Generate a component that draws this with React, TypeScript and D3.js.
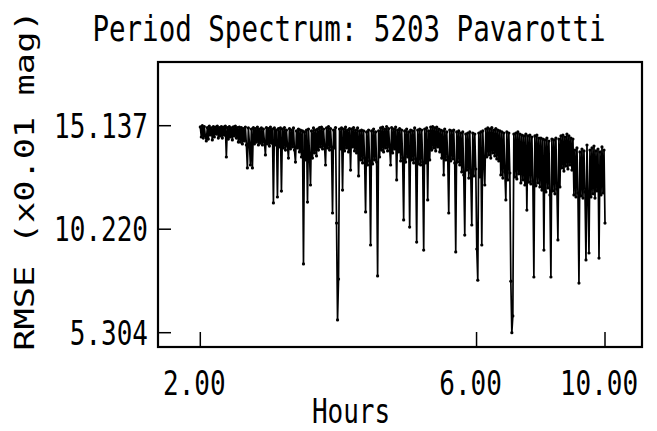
import React from 'react';
import * as d3 from 'd3';

const chartTitle = 'Period Spectrum: 5203 Pavarotti';
const xLabel = 'Hours';
const yLabel = 'RMSE (x0.01 mag)';
const xTicks = [2, 6, 10];
const xTickLabels = ['2.00', '6.00', '10.00'];
const yTicks = [5.304, 10.22, 15.137];
const yTickLabels = ['5.304', '10.220', '15.137'];
const periodStart = 2.0;
const periodEnd = 10.0;

// RMSE (x0.01 mag), one value per scan step from 2 h to 10 h
const rmse = [
  15.08, 14.60, 15.137, 14.55, 15.10, 14.65, 14.41, 15.05, 14.50, 15.12, 14.70, 15.03, 14.46, 15.10, 14.60, 15.07, 14.74, 15.12, 14.55, 15.05,
  14.65, 15.10, 14.55, 15.07, 14.69, 15.12, 13.65, 15.05, 14.50, 15.10, 14.60, 15.03, 14.46, 15.08, 14.65, 15.12, 14.55, 15.05, 14.36, 15.07,
  14.36, 15.05, 14.27, 15.00, 14.41, 15.07, 14.22, 13.13, 15.03, 14.31, 13.27, 14.98, 13.13, 15.05, 14.27, 15.00, 14.36, 15.07, 14.22, 14.98,
  14.31, 15.03, 14.22, 14.98, 14.36, 13.75, 15.05, 14.27, 15.00, 14.17, 15.07, 14.31, 14.98, 11.47, 15.03, 14.22, 14.93, 11.75, 15.00, 14.13,
  15.03, 12.03, 14.98, 14.08, 15.05, 13.98, 14.93, 14.17, 13.60, 15.00, 14.03, 14.93, 14.13, 15.03, 13.98, 13.41, 14.89, 14.08, 14.98, 13.89,
  14.93, 13.65, 14.89, 8.57, 14.84, 13.51, 14.93, 11.51, 14.98, 13.75, 12.32, 14.89, 13.60, 15.03, 13.84, 14.93, 13.70, 14.98, 13.98, 15.05,
  14.13, 15.07, 14.03, 14.98, 14.17, 13.27, 15.03, 14.08, 15.10, 13.98, 15.00, 14.13, 10.99, 14.93, 14.08, 15.05, 10.51, 5.91, 7.85, 14.98,
  14.03, 15.03, 12.08, 14.98, 13.94, 15.07, 14.08, 14.93, 13.89, 15.00, 13.03, 14.98, 14.13, 15.05, 13.94, 14.93, 13.84, 15.03, 12.75, 14.89,
  13.51, 14.93, 13.37, 14.89, 13.60, 11.04, 14.84, 13.27, 14.93, 13.46, 9.47, 14.89, 13.32, 14.98, 13.51, 14.84, 13.41, 8.00, 14.89, 13.65,
  15.03, 13.98, 15.07, 13.89, 14.98, 14.08, 15.10, 13.94, 15.00, 14.13, 13.27, 15.05, 13.84, 14.98, 14.03, 15.07, 12.56, 14.93, 13.89, 15.00,
  13.46, 14.93, 13.60, 10.66, 14.89, 13.41, 14.98, 13.65, 14.84, 10.32, 14.93, 13.51, 14.89, 13.37, 15.03, 13.56, 9.61, 14.93, 13.32, 14.98,
  13.27, 14.93, 13.41, 9.23, 14.98, 13.37, 15.03, 11.61, 14.89, 13.51, 15.07, 13.98, 15.10, 14.08, 15.03, 13.94, 15.07, 14.13, 14.98, 13.89,
  14.93, 13.60, 14.89, 12.80, 14.98, 13.51, 14.84, 13.65, 10.99, 14.93, 13.46, 14.89, 13.56, 14.93, 13.37, 9.14, 14.84, 13.41, 14.89, 13.27,
  14.79, 12.94, 14.84, 12.80, 9.94, 14.74, 13.03, 14.79, 12.65, 14.84, 12.89, 10.42, 14.79, 12.75, 14.74, 13.08, 9.28, 7.80, 14.79, 12.70,
  14.84, 9.47, 14.89, 13.51, 12.32, 14.98, 13.65, 15.03, 13.75, 14.98, 13.60, 15.05, 13.84, 14.93, 13.70, 15.00, 13.56, 14.93, 13.46, 14.89,
  12.80, 14.84, 12.65, 14.79, 12.94, 11.61, 14.84, 12.56, 14.79, 12.89, 7.75, 5.304, 6.10, 14.74, 12.70, 14.79, 12.61, 14.84, 12.85, 14.74,
  12.42, 14.69, 12.56, 14.65, 12.32, 14.74, 11.13, 14.65, 12.46, 14.69, 12.37, 14.60, 12.51, 7.95, 14.65, 12.28, 14.69, 12.42, 14.55, 12.23,
  14.55, 12.08, 14.50, 9.23, 14.46, 11.99, 14.55, 12.18, 14.41, 11.85, 7.95, 14.50, 12.04, 14.46, 11.90, 14.55, 12.13, 9.71, 14.50, 12.23,
  14.65, 13.13, 14.69, 12.98, 14.60, 13.22, 14.74, 13.08, 14.65, 13.27, 14.55, 13.03, 14.50, 11.85, 13.98, 11.75, 14.08, 11.94, 7.66, 13.89,
  11.80, 14.03, 11.70, 13.94, 11.99, 8.76, 14.22, 11.85, 9.09, 13.98, 11.75, 14.08, 11.90, 14.17, 11.70, 13.94, 12.04, 14.03, 8.85, 13.89,
  11.85, 14.13, 11.94, 13.98, 10.51,
];

const FONT = '"DejaVu Sans Mono", monospace';

export default function App() {
  const W = 657;
  const H = 431;
  const frame = { left: 158, right: 642, top: 62, bottom: 347 };
  const x = d3.scaleLog().domain([2, 10]).range([200.3, 605]);
  const y = d3.scaleLinear().domain([5.304, 15.137]).range([332.7, 125.7]);

  const n = rmse.length;
  const step = d3
    .scaleLinear()
    .domain([0, n - 1])
    .range([Math.log(periodStart), Math.log(periodEnd)]);
  const data = rmse.map((v, i) => ({ p: Math.exp(step(i)), v }));

  const line = d3
    .line<{ p: number; v: number }>()
    .x((d) => x(d.p))
    .y((d) => y(d.v));

  const sy = 1.28;

  return (
    <svg
      width={W}
      height={H}
      style={{ position: 'absolute', left: 0, top: 0, background: '#fff' }}
      fontFamily={FONT}
    >
      <rect x={0} y={0} width={W} height={H} fill="#fff" />
      <text
        transform={`translate(349,41) scale(1,${sy})`}
        textAnchor="middle"
        fontSize={27.5}
        fill="#000"
      >
        {chartTitle}
      </text>
      <text
        transform={`translate(34,${(353 + 8) / 2}) scale(1,1.36) rotate(-90)`}
        textAnchor="middle"
        fontSize={26}
        fill="#000"
      >
        {yLabel}
      </text>
      <text
        transform={`translate(351,423) scale(1,${sy})`}
        textAnchor="middle"
        fontSize={26}
        fill="#000"
      >
        {xLabel}
      </text>

      <path
        d={line(data) || ''}
        fill="none"
        stroke="#000"
        strokeWidth={1.7}
        strokeLinejoin="round"
      />
      {data.map((d, i) => (
        <circle key={i} cx={x(d.p)} cy={y(d.v)} r={1.6} fill="#000" />
      ))}

      <rect
        x={frame.left}
        y={frame.top}
        width={frame.right - frame.left}
        height={frame.bottom - frame.top}
        fill="none"
        stroke="#000"
        strokeWidth={2.2}
      />
      {xTicks.map((t, i) => (
        <g key={'xt' + i}>
          <line x1={x(t)} x2={x(t)} y1={frame.bottom} y2={frame.bottom - 15} stroke="#000" strokeWidth={1.5} />
          <text
            transform={`translate(${x(t) - 6},395) scale(1,${sy})`}
            textAnchor="middle"
            fontSize={26}
            fill="#000"
          >
            {xTickLabels[i]}
          </text>
        </g>
      ))}
      {yTicks.map((t, i) => (
        <g key={'yt' + i}>
          <line x1={frame.left} x2={frame.left + 13} y1={y(t)} y2={y(t)} stroke="#000" strokeWidth={1.5} />
          <text
            transform={`translate(148,${y(t) + 12}) scale(1,${sy})`}
            textAnchor="end"
            fontSize={26}
            fill="#000"
          >
            {yTickLabels[i]}
          </text>
        </g>
      ))}
    </svg>
  );
}
